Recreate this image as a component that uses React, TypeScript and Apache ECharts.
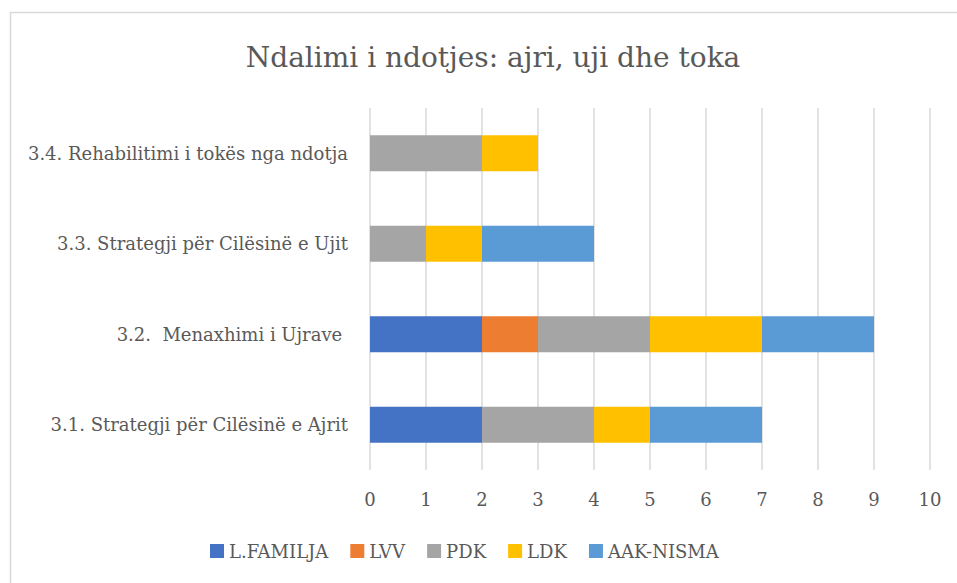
import React, { useEffect, useRef } from "react";
import * as echarts from "echarts";

const categories = [
  "3.1. Strategji për Cilësinë e Ajrit",
  "3.2.  Menaxhimi i Ujrave ",
  "3.3. Strategji për Cilësinë e Ujit",
  "3.4. Rehabilitimi i tokës nga ndotja",
];
const seriesNames = ["L.FAMILJA", "LVV", "PDK", "LDK", "AAK-NISMA"];
const lFamilja = [2, 2, 0, 0];
const lvv = [0, 1, 0, 0];
const pdk = [2, 2, 1, 2];
const ldk = [1, 2, 1, 1];
const aakNisma = [2, 2, 2, 0];
const seriesValues = [lFamilja, lvv, pdk, ldk, aakNisma];
const colors = ["#4472C4", "#ED7D31", "#A5A5A5", "#FFC000", "#5B9BD5"];

const FONT = "DejaVu Serif";
const TEXT = "#595959";

export default function App() {
  const ref = useRef<HTMLDivElement>(null);
  useEffect(() => {
    if (!ref.current) return;
    const chart = echarts.init(ref.current, undefined, { renderer: "svg" });
    chart.setOption({
      animation: false,
      backgroundColor: "#fff",
      textStyle: { fontFamily: FONT },
      title: {
        text: "Ndalimi i ndotjes: ajri, uji dhe toka",
        left: 488,
        textAlign: "center",
        top: 38,
        textStyle: { fontFamily: FONT, fontSize: 28, fontWeight: "normal", color: TEXT },
      },
      graphic: [
        {
          type: "rect",
          shape: { x: 10.5, y: 12.5, width: 960, height: 600 },
          style: { fill: "none", stroke: "#d9d9d9", lineWidth: 1.5 },
          silent: true,
        },
      ],
      legend: {
        bottom: 18,
        left: 205,
        itemWidth: 14,
        itemHeight: 14,
        itemGap: 22,
        icon: "rect",
        textStyle: { fontFamily: FONT, fontSize: 18, color: TEXT },
        data: seriesNames,
      },
      grid: { left: 370, right: 27, top: 108, bottom: 113 },
      xAxis: {
        type: "value",
        min: 0,
        max: 10,
        interval: 1,
        axisLine: { show: false },
        axisTick: { show: false },
        splitLine: { lineStyle: { color: "#d9d9d9", width: 1.5 } },
        axisLabel: { fontFamily: FONT, fontSize: 18, color: TEXT, margin: 20 },
      },
      yAxis: {
        type: "category",
        data: categories,
        axisLine: { show: false },
        axisTick: { show: false },
        axisLabel: { fontFamily: FONT, fontSize: 18, color: TEXT, margin: 22 },
      },
      series: seriesNames.map((name, i) => ({
        name,
        type: "bar",
        stack: "total",
        barWidth: "40%",
        itemStyle: { color: colors[i] },
        data: seriesValues[i],
      })),
    });
    return () => chart.dispose();
  }, []);
  return (
    <div
      ref={ref}
      style={{ position: "absolute", left: 0, top: 0, width: 957, height: 583 }}
    />
  );
}
